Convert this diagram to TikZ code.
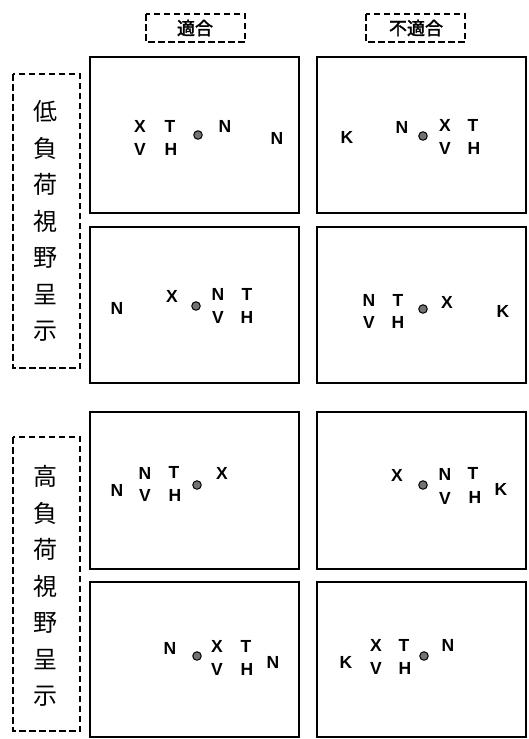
\documentclass[tikz,border=0pt]{standalone}
\usepackage{fontspec}
\setmainfont{Liberation Sans}
\newfontfamily\cjk{Noto Sans CJK JP}
\newfontfamily\cjkb{Noto Sans CJK JP}[FakeBold=2]
\begin{document}
\begin{tikzpicture}[x=1pt,y=-1pt,
  panel/.style={draw=black,line width=1.8pt},
  dbox/.style={draw=black,dashed,dash pattern=on 6.5pt off 3.5pt,line width=1.3pt},
  lt/.style={inner sep=0pt,font=\fontsize{17.5}{17.5}\selectfont\bfseries},
  fix/.style={circle,inner sep=0pt,minimum size=8.5pt,fill=black!55,draw=black,line width=1pt},
  head/.style={inner sep=0pt,font=\cjkb\fontsize{18}{18}\selectfont},
  side/.style={inner sep=0pt,align=center,font=\cjk\fontsize{24}{36.5}\selectfont}]
\useasboundingbox (0,0) rectangle (528,739);
% header boxes
\draw[dbox] (146,14) rectangle (245,42);
\node[head] (h1) at (195,28) {適合};
\draw[dbox] (366,14) rectangle (465,42);
\node[head] (h2) at (416,28) {不適合};
% side boxes
\draw[dbox] (13,74) rectangle (80,368);
\node[side] (s1) at (46,221) {低\\負\\荷\\視\\野\\呈\\示};
\draw[dbox] (13,437) rectangle (80,731);
\node[side] (s2) at (46,586) {高\\負\\荷\\視\\野\\呈\\示};
% panels
\draw[panel] (90,57) rectangle (299,213);
\draw[panel] (317,57) rectangle (526,213);
\draw[panel] (90,227) rectangle (299,383);
\draw[panel] (317,227) rectangle (526,383);
\draw[panel] (90,412) rectangle (299,569);
\draw[panel] (317,412) rectangle (526,569);
\draw[panel] (90,582) rectangle (299,737);
\draw[panel] (317,582) rectangle (526,737);
% panel 1
\node[lt] (a1) at (140,126) {X};
\node[lt] (a2) at (170,126) {T};
\node[lt] (a3) at (140,149) {V};
\node[lt] (a4) at (171,149) {H};
\node[fix] (a5) at (198,135) {};
\node[lt] (a6) at (225,126) {N};
\node[lt] (a7) at (277,138) {N};
% panel 2
\node[lt] (b1) at (347,137) {K};
\node[lt] (b2) at (402,127) {N};
\node[fix] (b3) at (423,136) {};
\node[lt] (b4) at (445,125) {X};
\node[lt] (b5) at (473,125) {T};
\node[lt] (b6) at (445,148) {V};
\node[lt] (b7) at (474,148) {H};
% panel 3
\node[lt] (c1) at (117,308) {N};
\node[lt] (c2) at (172,296) {X};
\node[fix] (c3) at (196,306) {};
\node[lt] (c4) at (218,294) {N};
\node[lt] (c5) at (247,294) {T};
\node[lt] (c6) at (218,317) {V};
\node[lt] (c7) at (247,317) {H};
% panel 4
\node[lt] (d1) at (369,300) {N};
\node[lt] (d2) at (398,300) {T};
\node[lt] (d3) at (369,322) {V};
\node[lt] (d4) at (398,322) {H};
\node[fix] (d5) at (423,309) {};
\node[lt] (d6) at (447,302) {X};
\node[lt] (d7) at (503,311) {K};
% panel 5
\node[lt] (e1) at (117,490) {N};
\node[lt] (e2) at (145,473) {N};
\node[lt] (e3) at (174,472) {T};
\node[lt] (e4) at (145,495) {V};
\node[lt] (e5) at (175,495) {H};
\node[fix] (e6) at (197,485) {};
\node[lt] (e7) at (222,473) {X};
% panel 6
\node[lt] (f1) at (397,475) {X};
\node[fix] (f2) at (423,485) {};
\node[lt] (f3) at (445,474) {N};
\node[lt] (f4) at (473,473) {T};
\node[lt] (f5) at (445,498) {V};
\node[lt] (f6) at (475,497) {H};
\node[lt] (f7) at (501,489) {K};
% panel 7
\node[lt] (g1) at (170,648) {N};
\node[fix] (g2) at (197,656) {};
\node[lt] (g3) at (217,646) {X};
\node[lt] (g4) at (246,646) {T};
\node[lt] (g5) at (217,669) {V};
\node[lt] (g6) at (247,669) {H};
\node[lt] (g7) at (273,662) {N};
% panel 8
\node[lt] (k1) at (346,662) {K};
\node[lt] (k2) at (376,645) {X};
\node[lt] (k3) at (404,645) {T};
\node[lt] (k4) at (376,668) {V};
\node[lt] (k5) at (405,668) {H};
\node[fix] (k6) at (424,656) {};
\node[lt] (k7) at (448,645) {N};
\end{tikzpicture}
\end{document}
